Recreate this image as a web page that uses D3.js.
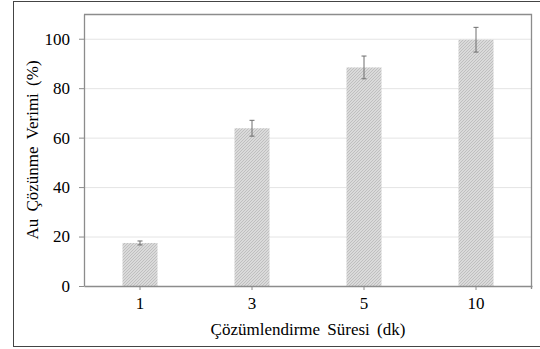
<!DOCTYPE html>
<html>
<head>
    <meta charset="UTF-8">
    <title>Au Çözünme Verimi</title>
    <script src="https://d3js.org/d3.v7.min.js"></script>
    <style>
        body { margin: 0; background: #fff; }
    </style>
</head>
<body>
<svg id="chart" width="540" height="349"></svg>
<script>
    // data
    let times = ["1", "3", "5", "10"]
    let yields = [17.4, 63.8, 88.4, 99.6]
    let errors = [0.8, 3.2, 4.6, 5.0]
    let yTicks = [0, 20, 40, 60, 80, 100]

    let serif = '"Liberation Serif"'
    let svg = d3.select("#chart")
    let margin = { left: 84, right: 8, top: 14, bottom: 63 }
    let width = 540, height = 349
    let innerW = width - margin.left - margin.right
    let innerH = height - margin.top - margin.bottom

    // outer frame
    svg.append("rect")
        .attr("x", 13.5).attr("y", 1.5)
        .attr("width", 540).attr("height", 345)
        .attr("fill", "none").attr("stroke", "#444").attr("stroke-width", 1)

    // hatch fill for bars
    let pat = svg.append("defs").append("pattern")
        .attr("id", "hatch").attr("patternUnits", "userSpaceOnUse")
        .attr("width", 3).attr("height", 3)
    pat.append("rect").attr("width", 3).attr("height", 3).attr("fill", "#dadada")
    pat.append("path").attr("d", "M0,3 L3,0").attr("stroke", "#bcbcbc").attr("stroke-width", 0.9)

    let x = d3.scaleBand().domain(times).range([0, innerW]).paddingInner(0.6875).paddingOuter(0.34375)
    let y = d3.scaleLinear().domain([0, 110]).range([innerH, 0])

    let g = svg.append("g").attr("transform", `translate(${margin.left},${margin.top})`)

    // gridlines
    g.selectAll(".grid").data(yTicks.filter(d => d > 0)).enter().append("line")
        .attr("x1", 0).attr("x2", innerW)
        .attr("y1", d => y(d) + 0.5).attr("y2", d => y(d) + 0.5)
        .attr("stroke", "#e4e4e4").attr("stroke-width", 1)

    // plot border (top and right)
    g.append("path")
        .attr("d", `M0,0.5 H${innerW - 0.5} V${innerH + 3}`)
        .attr("fill", "none").attr("stroke", "#8c8c8c").attr("stroke-width", 1.3)

    // bars
    g.selectAll(".bar").data(yields).enter().append("rect")
        .attr("x", (d, i) => x(times[i]))
        .attr("y", d => y(d))
        .attr("width", x.bandwidth())
        .attr("height", d => innerH - y(d))
        .attr("fill", "url(#hatch)")

    // error bars
    let eb = g.selectAll(".err").data(yields).enter().append("g")
        .attr("stroke", "#6e6e6e").attr("stroke-width", 1)
    eb.append("line")
        .attr("x1", (d, i) => x(times[i]) + x.bandwidth() / 2)
        .attr("x2", (d, i) => x(times[i]) + x.bandwidth() / 2)
        .attr("y1", (d, i) => y(d - errors[i]))
        .attr("y2", (d, i) => y(d + errors[i]))
    eb.append("line")
        .attr("x1", (d, i) => x(times[i]) + x.bandwidth() / 2 - 2.5)
        .attr("x2", (d, i) => x(times[i]) + x.bandwidth() / 2 + 2.5)
        .attr("y1", (d, i) => y(d + errors[i]))
        .attr("y2", (d, i) => y(d + errors[i]))
    eb.append("line")
        .attr("x1", (d, i) => x(times[i]) + x.bandwidth() / 2 - 2.5)
        .attr("x2", (d, i) => x(times[i]) + x.bandwidth() / 2 + 2.5)
        .attr("y1", (d, i) => y(d - errors[i]))
        .attr("y2", (d, i) => y(d - errors[i]))

    // axes
    g.append("g")
        .call(d3.axisLeft(y).tickValues(yTicks).tickSize(5).tickSizeOuter(0).tickPadding(9))
    g.append("g").attr("transform", `translate(0,${innerH})`)
        .call(d3.axisBottom(x).tickSize(4).tickSizeOuter(0).tickPadding(7))
    g.selectAll(".domain").attr("stroke", "#8c8c8c").attr("stroke-width", 1.3)
    g.selectAll(".tick line").attr("stroke", "#8c8c8c")
    g.selectAll(".tick text")
        .style("font-family", serif).style("font-size", "17px").style("fill", "#000")

    // axis titles
    svg.append("text")
        .attr("x", margin.left + innerW / 2).attr("y", 335)
        .attr("text-anchor", "middle")
        .style("font-family", serif).style("font-size", "17px").style("fill", "#000")
        .style("word-spacing", "3px")
        .text("Çözümlendirme Süresi (dk)")
    svg.append("text")
        .attr("transform", `translate(38,${margin.top + innerH / 2}) rotate(-90)`)
        .attr("text-anchor", "middle")
        .style("font-family", serif).style("font-size", "17px").style("fill", "#000")
        .style("word-spacing", "3px")
        .text("Au Çözünme Verimi (%)")
</script>
</body>
</html>
